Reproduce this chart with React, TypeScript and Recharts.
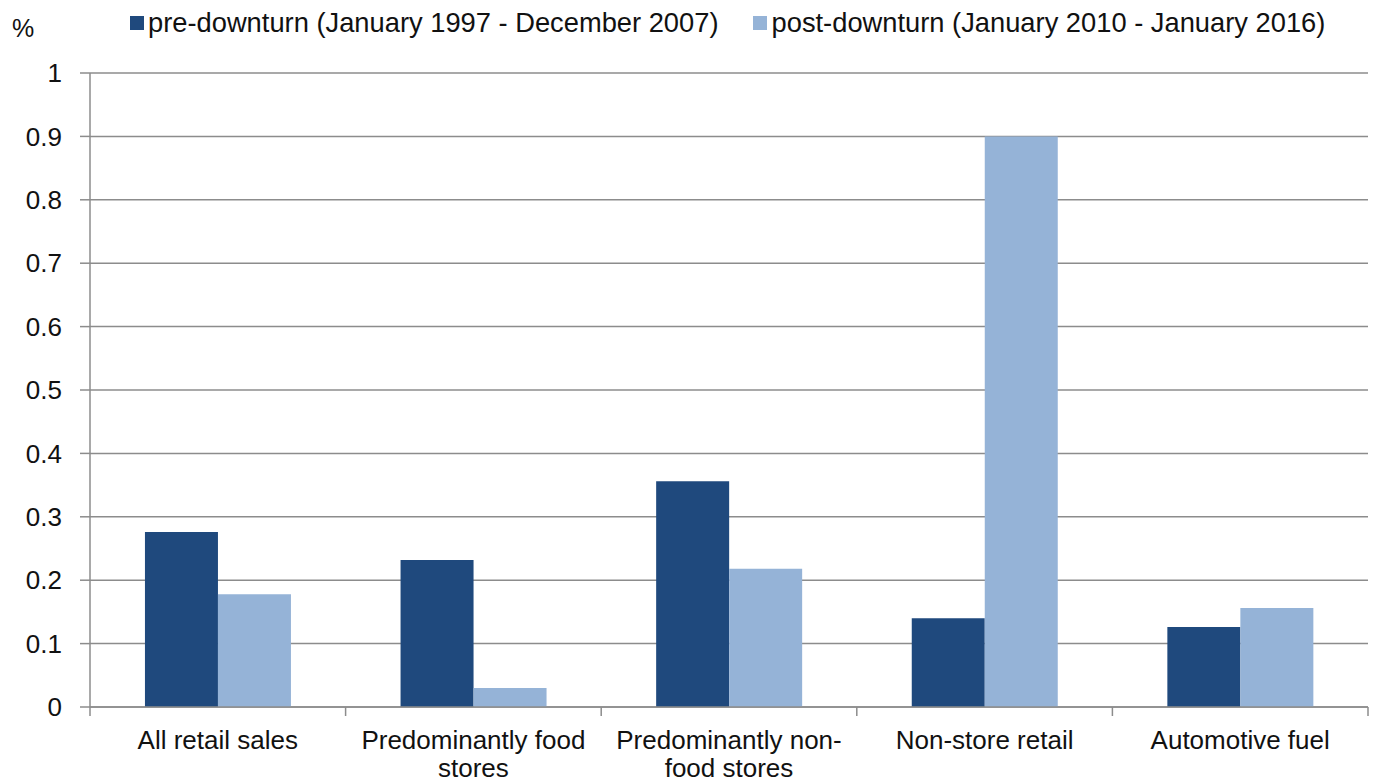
import React from 'react';
import { BarChart, Bar, XAxis, YAxis, CartesianGrid } from 'recharts';

const categories = [
  'All retail sales',
  'Predominantly food stores',
  'Predominantly non-food stores',
  'Non-store retail',
  'Automotive fuel',
];
const labelLines: string[][] = [
  ['All retail sales'],
  ['Predominantly food', 'stores'],
  ['Predominantly non-', 'food stores'],
  ['Non-store retail'],
  ['Automotive fuel'],
];
const preDownturn = [0.276, 0.232, 0.356, 0.14, 0.126];
const postDownturn = [0.178, 0.03, 0.218, 0.9, 0.156];
const yTicks = [0, 0.1, 0.2, 0.3, 0.4, 0.5, 0.6, 0.7, 0.8, 0.9, 1];
const seriesNames = [
  'pre-downturn (January 1997 - December 2007)',
  'post-downturn (January 2010 - January 2016)',
];

const DARK = '#1F497D';
const LIGHT = '#95B3D7';
const AXIS = '#8c8c8c';
const FONT = '"Liberation Sans", Arial, sans-serif';

const data = categories.map((c, i) => ({
  name: c,
  pre: preDownturn[i],
  post: postDownturn[i],
}));

const CategoryTick = (props: any) => {
  const { x, y, payload, index } = props;
  const half = payload && payload.offset ? payload.offset : 0;
  const lines = labelLines[index] || [payload.value];
  return (
    <g>
      <line x1={x - half} x2={x - half} y1={y - 8} y2={y + 1} stroke={AXIS} strokeWidth={1.5} />
      {index === categories.length - 1 && (
        <line x1={x + half} x2={x + half} y1={y - 8} y2={y + 1} stroke={AXIS} strokeWidth={1.5} />
      )}
      {lines.map((t, i) => (
        <text
          key={i}
          x={x}
          y={y + 34 + i * 28}
          textAnchor="middle"
          fontFamily={FONT}
          fontSize={26}
          fill="#111"
        >
          {t}
        </text>
      ))}
    </g>
  );
};

const App: React.FC = () => {
  return (
    <div style={{ position: 'absolute', left: 0, top: 0, width: 1373, height: 783, background: '#fff', overflow: 'hidden' }}>
      <div style={{ position: 'absolute', left: 12, top: 14, fontFamily: FONT, fontSize: 25, color: '#111' }}>%</div>
      <div
        style={{
          position: 'absolute',
          left: 130,
          top: 7,
          fontFamily: FONT,
          fontSize: 27.3,
          color: '#111',
          display: 'flex',
          alignItems: 'center',
          whiteSpace: 'nowrap',
        }}
      >
        <span style={{ display: 'inline-block', width: 14, height: 14, background: DARK, marginRight: 4 }} />
        <span>{seriesNames[0]}</span>
        <span style={{ display: 'inline-block', width: 14, height: 14, background: LIGHT, marginLeft: 34, marginRight: 5 }} />
        <span>{seriesNames[1]}</span>
      </div>
      <BarChart
        width={1373}
        height={783}
        data={data}
        margin={{ top: 73, right: 5, bottom: 0, left: 30 }}
        barGap={0}
        barCategoryGap="21.5%"
      >
        <CartesianGrid vertical={false} stroke={AXIS} strokeWidth={1.5} />
        <XAxis
          dataKey="name"
          axisLine={{ stroke: AXIS, strokeWidth: 1.5 }}
          tickLine={false}
          tick={<CategoryTick />}
          interval={0}
          height={76}
        />
        <YAxis
          domain={[0, 1]}
          ticks={yTicks}
          width={60}
          axisLine={{ stroke: AXIS, strokeWidth: 1.5 }}
          tickLine={{ stroke: AXIS, strokeWidth: 1.5 }}
          tickSize={10}
          tickMargin={18}
          tick={{ fontFamily: FONT, fontSize: 26, fill: '#111' }}
        />
        <Bar dataKey="pre" name={seriesNames[0]} fill={DARK} isAnimationActive={false} />
        <Bar dataKey="post" name={seriesNames[1]} fill={LIGHT} isAnimationActive={false} />
      </BarChart>
    </div>
  );
};

export default App;
